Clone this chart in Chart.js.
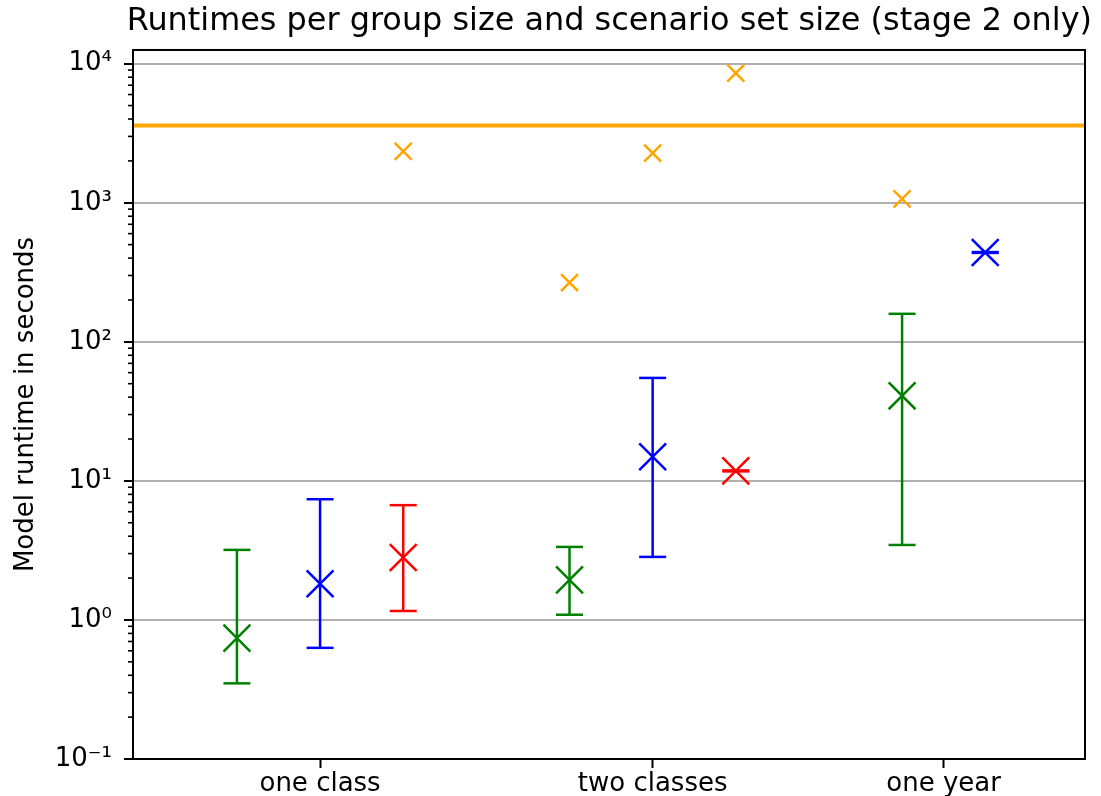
<!DOCTYPE html>
<html>
<head>
<meta charset="utf-8">
<script src="https://cdn.jsdelivr.net/npm/chart.js@4.4.1/dist/chart.umd.min.js"></script>
<style>
  body { margin: 0; background: #fff; }
  canvas { display: block; }
</style>
</head>
<body>
<canvas id="runtimeChart" width="1101" height="796"></canvas>
<script>
// // Runtime data, seconds, log scale
const groupLabels = ["one class", "two classes", "one year"];
const groupTickPos = [1, 5, 8.5];

// green = smallest scenario set, blue = middle, red = largest
const greenX = [0, 4, 8];
const greenMid = [0.74, 1.94, 40.9];
const greenLow = [0.35, 1.09, 3.46];
const greenHigh = [3.19, 3.35, 159];

const blueX = [1, 5, 9];
const blueMid = [1.82, 14.9, 439];
const blueLow = [0.63, 2.84, 436];
const blueHigh = [7.38, 55, 442];

const redX = [2, 6];
const redMid = [2.81, 11.8];
const redLow = [1.16, 11.7];
const redHigh = [6.69, 11.9];

// orange crosses = timed out / max runs
const orangeX = [2, 4, 5, 6, 8];
const orangeVals = [2340, 267, 2277, 8550, 1067];

const timeLimit = 3600;

const yMin = 0.1;
const yMax = 12550;
const xMin = -1.25;
const xMax = 10.2;

const FONT = "DejaVu Sans";
const sup = { "-": "⁻", "0": "⁰", "1": "¹", "2": "²", "3": "³", "4": "⁴" };

function errorDatasets(xs, mids, lows, highs, color) {
  let sets = [];
  xs.forEach((x, i) => {
    sets.push({
      data: [{ x: x, y: lows[i] }, { x: x, y: highs[i] }],
      showLine: true,
      borderColor: color,
      borderWidth: 2.5,
      pointStyle: "line",
      pointRadius: 13.5,
      pointBorderColor: color,
      pointBorderWidth: 2.5,
    });
  });
  sets.push({
    data: xs.map((x, i) => ({ x: x, y: mids[i] })),
    showLine: false,
    pointStyle: "crossRot",
    pointRadius: 19,
    pointBorderColor: color,
    pointBorderWidth: 2.5,
  });
  return sets;
}

const datasets = [
  ...errorDatasets(greenX, greenMid, greenLow, greenHigh, "green"),
  ...errorDatasets(blueX, blueMid, blueLow, blueHigh, "blue"),
  ...errorDatasets(redX, redMid, redLow, redHigh, "red"),
  {
    data: orangeX.map((x, i) => ({ x: x, y: orangeVals[i] })),
    showLine: false,
    pointStyle: "crossRot",
    pointRadius: 12,
    pointBorderColor: "orange",
    pointBorderWidth: 2.5,
  },
  {
    data: [{ x: xMin, y: timeLimit }, { x: xMax, y: timeLimit }],
    showLine: true,
    borderColor: "orange",
    borderWidth: 4,
    pointRadius: 0,
  },
];

// minor log ticks + box frame
const framePlugin = {
  id: "frame",
  afterDatasetsDraw(chart) {
    const ctx = chart.ctx;
    const a = chart.chartArea;
    const y = chart.scales.y;
    ctx.save();
    ctx.strokeStyle = "#000";
    ctx.lineWidth = 1.6;
    for (let e = -1; e <= 4; e++) {
      for (let m = 2; m <= 9; m++) {
        const v = m * Math.pow(10, e);
        if (v > yMax) continue;
        const py = y.getPixelForValue(v);
        ctx.beginPath();
        ctx.moveTo(a.left - 5, py);
        ctx.lineTo(a.left, py);
        ctx.stroke();
      }
    }
    ctx.lineWidth = 2;
    ctx.strokeRect(a.left, a.top, a.right - a.left, a.bottom - a.top);
    ctx.restore();
  },
};

const ctx = document.getElementById("runtimeChart").getContext("2d");
const runtimeChart = new Chart(ctx, {
  type: "scatter",
  data: { datasets: datasets },
  plugins: [framePlugin],
  options: {
    responsive: false,
    animation: false,
    layout: { autoPadding: false, padding: { left: 0, right: 9, top: 0, bottom: 0 } },
    plugins: {
      legend: { display: false },
      tooltip: { enabled: false },
      title: {
        display: true,
        align: "end",
        text: "Runtimes per group size and scenario set size (stage 2 only)",
        color: "#000",
        font: { family: FONT, size: 31.9, weight: "normal" },
        padding: { top: 3, bottom: 8.7 },
      },
    },
    scales: {
      x: {
        type: "linear",
        min: xMin,
        max: xMax,
        afterBuildTicks: (scale) => {
          scale.ticks = groupTickPos.map((v) => ({ value: v }));
        },
        afterFit: (scale) => {
          scale.height = 37;
          scale.paddingLeft = 0;
          scale.paddingRight = 16;
        },
        ticks: {
          autoSkip: false,
          maxRotation: 0,
          color: "#000",
          padding: 1,
          font: { family: FONT, size: 26 },
          callback: (value) => groupLabels[groupTickPos.indexOf(value)],
        },
        grid: {
          drawOnChartArea: false,
          tickLength: 9,
          tickColor: "#000",
          tickWidth: 2,
        },
        border: { display: false },
      },
      y: {
        type: "logarithmic",
        min: yMin,
        max: yMax,
        afterBuildTicks: (scale) => {
          scale.ticks = [-1, 0, 1, 2, 3, 4].map((e) => ({ value: Math.pow(10, e), major: true }));
        },
        afterFit: (scale) => {
          scale.width = 133;
        },
        ticks: {
          color: "#000",
          padding: 12,
          font: { family: FONT, size: 26 },
          callback: (value) => {
            const e = String(Math.round(Math.log10(value)));
            return "10" + e.split("").map((c) => sup[c]).join("");
          },
        },
        grid: {
          color: "#b0b0b0",
          lineWidth: 2,
          tickLength: 9,
          tickColor: "#000",
          tickWidth: 2,
        },
        border: { display: false },
        title: {
          display: true,
          text: "Model runtime in seconds",
          color: "#000",
          font: { family: FONT, size: 26 },
          padding: { top: 11, bottom: 0 },
        },
      },
    },
  },
});
</script>
</body>
</html>
